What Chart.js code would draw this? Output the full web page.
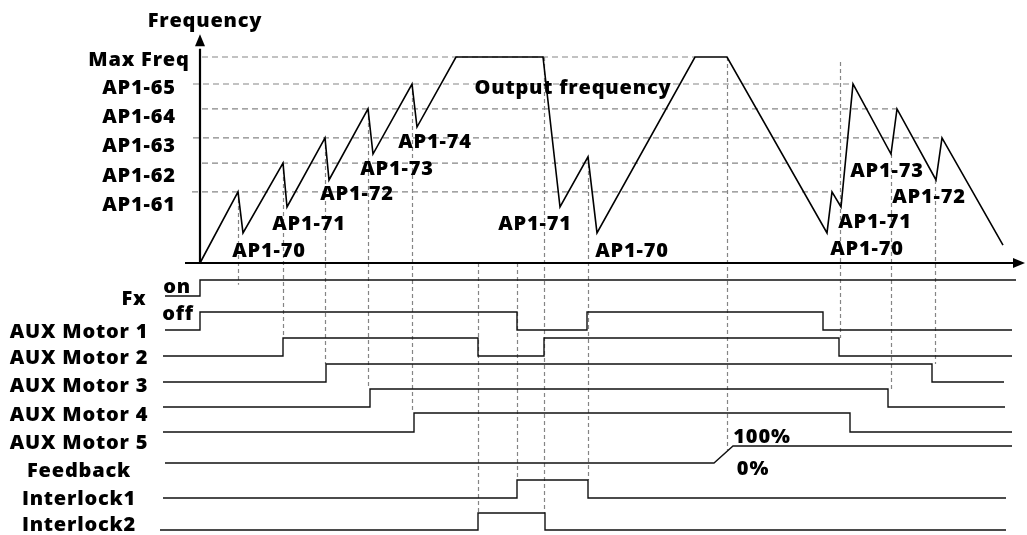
<!DOCTYPE html>
<html>
<head>
<meta charset="utf-8">
<title>AUX motor control sequence</title>
<script src="https://cdn.jsdelivr.net/npm/chart.js@4/dist/chart.umd.min.js"></script>
<style>
  html, body { margin: 0; padding: 0; background: #fff; }
  canvas { display: block; }
</style>
</head>
<body>
<canvas id="timing" width="1027" height="535"></canvas>
<script>
// time in arbitrary units (0 = Fx run command), frequency in % of max freq

const levelNames  = ['Max Freq', 'AP1-65', 'AP1-64', 'AP1-63', 'AP1-62', 'AP1-61'];
const levelValues = [100, 86.9, 74.8, 60.7, 48.5, 34.5];
const levelStart  = [2, -7, 2, -7, 2, -8];
const levelEnd    = [495, 653, 697, 742, 642, 632];

// output frequency trace
const freqT = [0, 38, 43, 83, 87, 125, 129, 168, 173, 212, 217, 256, 343,
               360, 388, 397, 495, 527, 627, 632, 641, 653, 691, 697, 736, 742, 803];
const freqV = [0, 34.5, 14.6, 48.5, 27.2, 60.7, 40.3, 74.8, 52.9, 86.9, 66.0, 100, 100,
               27.2, 51.5, 14.6, 100, 100, 14.6, 34.5, 27.2, 86.9, 52.9, 74.8, 40.3, 60.7, 8.7];

// digital signals: time of each change and the state from then on
const fxT   = [-35, 0, 816];                 const fxS   = [0, 1, 1];
const aux1T = [-35, 0, 317, 387, 623, 812];  const aux1S = [0, 1, 0, 1, 0, 0];
const aux2T = [-37, 83, 278, 344, 639, 812]; const aux2S = [0, 1, 0, 1, 0, 0];
const aux3T = [-37, 126, 732, 804];          const aux3S = [0, 1, 0, 0];
const aux4T = [-37, 170, 688, 805];          const aux4S = [0, 1, 0, 0];
const aux5T = [-37, 214, 650, 812];          const aux5S = [0, 1, 0, 0];
const fbT   = [-35, 514, 533, 812];          const fbV   = [0, 0, 100, 100];
const il1T  = [-37, 317, 388, 806];          const il1S  = [0, 1, 0, 0];
const il2T  = [-40, 278, 345, 806];          const il2S  = [0, 1, 0, 0];

// dashed guides: time, start freq, row it drops to, state on that row
const guideT    = [38, 83, 125, 168, 212, 278, 317, 344, 388, 527, 640, 691, 735];
const guideFrom = [34.5, 48.5, 60.7, 74.8, 86.9, 0, 0, 100, 51.5, 100, 97.6, 52.9, 40.3];
const guideRow  = ['fx', 'aux2', 'aux3', 'aux4', 'aux5', 'il2', 'il1', 'il2', 'il1', 'fb', 'aux2', 'aux4', 'aux3'];
const guideTo   = [0.7, 1, 1, 1, 1, 1, 1, 1, 1, 75, 1, 1, 1];

// ---- layout ----
const W = 1027, H = 535;
const FONT = '800 20px "Open Sans"';
const INK = '#000';
const SIG = '#111';
const GUIDE = '#858585';

// pixel rows: [id, pixel for low, pixel for high, high value]
const rows = [
  ['fx',   296, 280, 1],
  ['aux1', 330, 312, 1],
  ['aux2', 356, 338, 1],
  ['aux3', 382, 364, 1],
  ['aux4', 407, 389, 1],
  ['aux5', 432, 413, 1],
  ['fb',   463, 446, 100],
  ['il1',  498, 480, 1],
  ['il2',  530, 513, 1]
];

// value v0 at pixel p0, v1 at pixel p1, axis spanning the whole canvas
function fitAxis(p0, p1, v0, v1) {
  const range = (v1 - v0) * H / (p0 - p1);
  const max = v0 + range * p0 / H;
  return { type: 'linear', display: false, min: max - range, max: max };
}

const scales = {
  x: { type: 'linear', display: false, min: -200, max: W - 200 },
  yf: fitAxis(263, 57, 0, 100)
};
rows.forEach(([id, lo, hi, top]) => { scales[id] = fitAxis(lo, hi, 0, top); });

const pts = (ts, vs) => ts.map((t, i) => ({ x: t, y: vs[i] }));

const datasets = [
  { data: pts(freqT, freqV), yAxisID: 'yf', borderColor: INK, borderWidth: 1.6, order: 0 }
];
levelValues.forEach((v, i) => {
  datasets.push({
    data: pts([levelStart[i], levelEnd[i]], [v, v]), yAxisID: 'yf',
    borderColor: GUIDE, borderWidth: 1.2, borderDash: [6, 4], order: 3
  });
});
const signal = (ts, ss, id, stepped = true) => ({
  data: pts(ts, ss), yAxisID: id, borderColor: SIG, borderWidth: 1.4, stepped: stepped, order: 1
});
datasets.push(
  signal(fxT, fxS, 'fx'),
  signal(aux1T, aux1S, 'aux1'),
  signal(aux2T, aux2S, 'aux2'),
  signal(aux3T, aux3S, 'aux3'),
  signal(aux4T, aux4S, 'aux4'),
  signal(aux5T, aux5S, 'aux5'),
  signal(fbT, fbV, 'fb', false),
  signal(il1T, il1S, 'il1'),
  signal(il2T, il2S, 'il2')
);

// text: [string, center x, baseline y]
const texts = [
  ['Frequency', 205, 27],
  ['Output frequency', 573, 94],
  ['AP1-70', 269, 257], ['AP1-71', 309, 230], ['AP1-72', 357, 200],
  ['AP1-73', 397, 175], ['AP1-74', 435, 148],
  ['AP1-71', 535, 230], ['AP1-70', 632, 257],
  ['AP1-73', 887, 177], ['AP1-72', 929, 203], ['AP1-71', 875, 228], ['AP1-70', 867, 255],
  ['Fx', 134, 305], ['on', 177, 293], ['off', 178, 320],
  ['AUX Motor 1', 79, 338], ['AUX Motor 2', 79, 364], ['AUX Motor 3', 79, 392],
  ['AUX Motor 4', 79, 421], ['AUX Motor 5', 79, 449],
  ['Feedback', 79, 477], ['Interlock1', 79, 505], ['Interlock2', 79, 531],
  ['100%', 762, 443], ['0%', 753, 475]
];
const levelBaseline = [66, 94, 123, 152, 182, 211];

const overlay = {
  id: 'overlay',
  beforeDatasetsDraw(chart) {
    const { ctx } = chart;
    const sx = chart.scales.x, yf = chart.scales.yf;
    ctx.save();
    ctx.strokeStyle = GUIDE;
    ctx.lineWidth = 1.2;
    ctx.setLineDash([4, 3]);
    guideT.forEach((t, i) => {
      const px = Math.round(sx.getPixelForValue(t)) + 0.5;
      ctx.beginPath();
      ctx.moveTo(px, yf.getPixelForValue(guideFrom[i]));
      ctx.lineTo(px, chart.scales[guideRow[i]].getPixelForValue(guideTo[i]));
      ctx.stroke();
    });
    ctx.restore();
  },
  afterDatasetsDraw(chart) {
    const { ctx } = chart;
    const sx = chart.scales.x, yf = chart.scales.yf;
    const x0 = sx.getPixelForValue(0), y0 = yf.getPixelForValue(0);
    ctx.save();

    // axes with arrow heads
    ctx.strokeStyle = INK;
    ctx.fillStyle = INK;
    ctx.lineWidth = 2.2;
    ctx.beginPath();
    ctx.moveTo(sx.getPixelForValue(-15), y0);
    ctx.lineTo(sx.getPixelForValue(814), y0);
    ctx.moveTo(x0, y0);
    ctx.lineTo(x0, yf.getPixelForValue(104));
    ctx.stroke();

    const ax = sx.getPixelForValue(825), ay = yf.getPixelForValue(111);
    ctx.beginPath();
    ctx.moveTo(ax, y0);
    ctx.lineTo(ax - 12, y0 - 5);
    ctx.lineTo(ax - 12, y0 + 5);
    ctx.closePath();
    ctx.fill();
    ctx.beginPath();
    ctx.moveTo(x0, ay);
    ctx.lineTo(x0 - 5, ay + 12);
    ctx.lineTo(x0 + 5, ay + 12);
    ctx.closePath();
    ctx.fill();

    // labels
    ctx.font = FONT;
    ctx.letterSpacing = '0.8px';
    ctx.textAlign = 'center';
    ctx.textBaseline = 'alphabetic';
    levelNames.forEach((name, i) => ctx.fillText(name, 139, levelBaseline[i]));
    texts.forEach(([s, x, y]) => ctx.fillText(s, x, y));
    ctx.restore();
  }
};

new Chart(document.getElementById('timing'), {
  type: 'line',
  data: { datasets },
  options: {
    responsive: false,
    animation: false,
    devicePixelRatio: 1,
    layout: { padding: 0 },
    elements: { point: { radius: 0, hoverRadius: 0 }, line: { tension: 0, borderCapStyle: 'butt' } },
    plugins: { legend: { display: false }, tooltip: { enabled: false } },
    events: [],
    scales
  },
  plugins: [overlay]
});
</script>
</body>
</html>
